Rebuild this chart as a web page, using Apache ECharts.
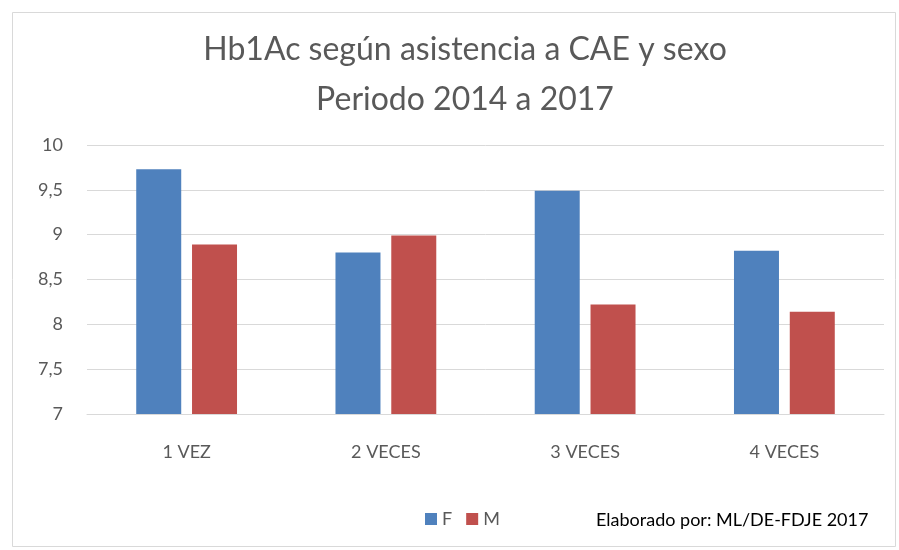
<!DOCTYPE html>
<html><head><meta charset="utf-8">
<script src="https://cdn.jsdelivr.net/npm/echarts@6/dist/echarts.min.js"></script>
<style>html,body{margin:0;padding:0;background:#fff}#c{width:899px;height:550px}</style>
</head><body><div id="c"></div>
<script>
const categories = ['1 VEZ', '2 VECES', '3 VECES', '4 VECES'];
const seriesF = [9.73, 8.80, 9.49, 8.82];
const seriesM = [8.89, 8.99, 8.22, 8.14];
const yTicks = [7, 7.5, 8, 8.5, 9, 9.5, 10];

const chart = echarts.init(document.getElementById('c'));
const font = 'Lato, "Open Sans", sans-serif';
chart.setOption({
  animation: false,
  backgroundColor: '#fff',
  title: {
    text: 'Hb1Ac según asistencia a CAE y sexo\nPeriodo 2014 a 2017',
    left: 460, top: 20, textAlign: 'center',
    textStyle: { fontFamily: font, fontSize: 32, fontWeight: 'normal', color: '#595959', lineHeight: 50 }
  },
  legend: {
    data: ['F', 'M'], left: 420, top: 505, itemWidth: 12, itemHeight: 12, itemGap: 14,
    icon: 'rect',
    textStyle: { fontFamily: font, fontSize: 18, color: '#595959' }
  },
  grid: { left: 87, right: 15, top: 145, bottom: 136, containLabel: false },
  xAxis: {
    type: 'category', data: categories,
    axisLine: { lineStyle: { color: '#d9d9d9', width: 1 } },
    axisTick: { show: false },
    axisLabel: { fontFamily: font, fontSize: 18, color: '#595959', margin: 29 }
  },
  yAxis: {
    type: 'value', min: yTicks[0], max: yTicks[yTicks.length - 1], interval: 0.5,
    axisLine: { show: false }, axisTick: { show: false },
    splitLine: { lineStyle: { color: '#d9d9d9', width: 1 } },
    axisLabel: { fontFamily: font, fontSize: 18, color: '#595959', margin: 24,
      formatter: v => String(v).replace('.', ',') }
  },
  series: [
    { name: 'F', type: 'bar', data: seriesF, barWidth: 45, barGap: '24%',
      itemStyle: { color: '#4F81BD' } },
    { name: 'M', type: 'bar', data: seriesM, barWidth: 45, barGap: '24%',
      itemStyle: { color: '#C0504D' } }
  ],
  graphic: [
    { type: 'rect', left: 10, top: 10, shape: { width: 883, height: 534 },
      style: { fill: 'none', stroke: '#d9d9d9', lineWidth: 1 }, silent: true },
    { type: 'text', left: 596, top: 511,
      style: { text: 'Elaborado por: ML/DE-FDJE 2017', font: '18px ' + font, fill: '#000' } }
  ]
});
</script></body></html>
